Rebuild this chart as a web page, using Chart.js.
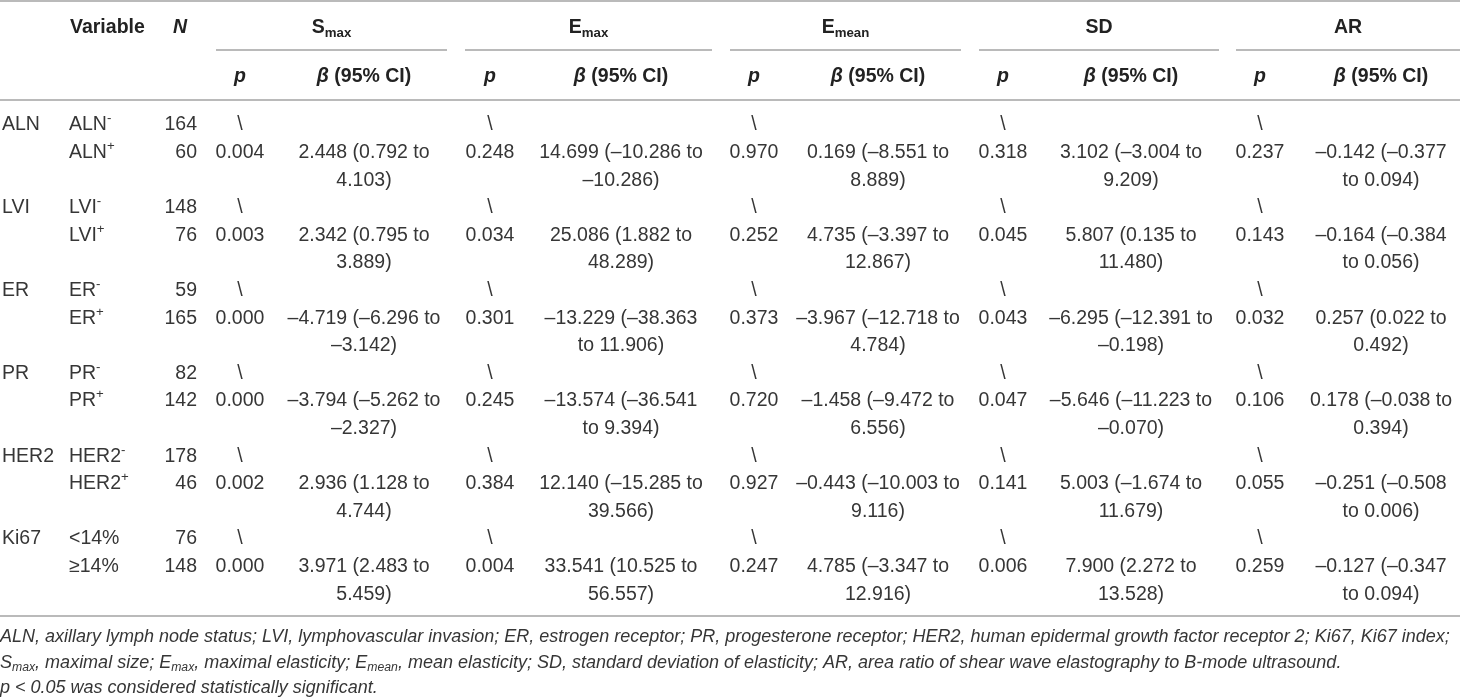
<!DOCTYPE html>
<html>
<head>
<meta charset="utf-8">
<script src="https://cdn.jsdelivr.net/npm/chart.js@4.4.1/dist/chart.umd.min.js"></script>
<style>
  html, body { margin: 0; padding: 0; background: #fff; }
  #wrap { width: 1460px; height: 699px; position: relative; }
</style>
</head>
<body>
<div id="wrap"><canvas id="tableChart"></canvas></div>
<script>
// Tabellendaten
const groups = ["ALN", "LVI", "ER", "PR", "HER2", "Ki67"];
const levels = [
  ["ALN^-", "ALN^+"],
  ["LVI^-", "LVI^+"],
  ["ER^-", "ER^+"],
  ["PR^-", "PR^+"],
  ["HER2^-", "HER2^+"],
  ["<14%", "≥14%"],
];
const nCounts = [[164, 60], [148, 76], [59, 165], [82, 142], [178, 46], [76, 148]];

const pSmax = ["0.004", "0.003", "0.000", "0.000", "0.002", "0.000"];
const betaSmax = [[2.448, 0.792, 4.103], [2.342, 0.795, 3.889], [-4.719, -6.296, -3.142],
  [-3.794, -5.262, -2.327], [2.936, 1.128, 4.744], [3.971, 2.483, 5.459]];
const pEmax = ["0.248", "0.034", "0.301", "0.245", "0.384", "0.004"];
const betaEmax = [[14.699, -10.286, -10.286], [25.086, 1.882, 48.289], [-13.229, -38.363, 11.906],
  [-13.574, -36.541, 9.394], [12.140, -15.285, 39.566], [33.541, 10.525, 56.557]];
const pEmean = ["0.970", "0.252", "0.373", "0.720", "0.927", "0.247"];
const betaEmean = [[0.169, -8.551, 8.889], [4.735, -3.397, 12.867], [-3.967, -12.718, 4.784],
  [-1.458, -9.472, 6.556], [-0.443, -10.003, 9.116], [4.785, -3.347, 12.916]];
const pSD = ["0.318", "0.045", "0.043", "0.047", "0.141", "0.006"];
const betaSD = [[3.102, -3.004, 9.209], [5.807, 0.135, 11.480], [-6.295, -12.391, -0.198],
  [-5.646, -11.223, -0.070], [5.003, -1.674, 11.679], [7.900, 2.272, 13.528]];
const pAR = ["0.237", "0.143", "0.032", "0.106", "0.055", "0.259"];
const betaAR = [[-0.142, -0.377, 0.094], [-0.164, -0.384, 0.056], [0.257, 0.022, 0.492],
  [0.178, -0.038, 0.394], [-0.251, -0.508, 0.006], [-0.127, -0.347, 0.094]];

const measures = [
  { name: "S", sub: "max", p: pSmax, beta: betaSmax },
  { name: "E", sub: "max", p: pEmax, beta: betaEmax },
  { name: "E", sub: "mean", p: pEmean, beta: betaEmean },
  { name: "SD", sub: "", p: pSD, beta: betaSD },
  { name: "AR", sub: "", p: pAR, beta: betaAR },
];

const footnotes = [
  [{ t: "ALN, axillary lymph node status; LVI, lymphovascular invasion; ER, estrogen receptor; PR, progesterone receptor; HER2, human epidermal growth factor receptor 2; Ki67, Ki67 index;" }],
  [{ t: "S" }, { t: "max", sub: true }, { t: ", maximal size; E" }, { t: "max", sub: true }, { t: ", maximal elasticity; E" },
   { t: "mean", sub: true }, { t: ", mean elasticity; SD, standard deviation of elasticity; AR, area ratio of shear wave elastography to B-mode ultrasound." }],
  [{ t: "p < 0.05 was considered statistically significant." }],
];

// Layout (x in Pixel-Einheiten, y in Zeilen-Einheiten)
const colGroupX = 2, colVarX = 69, colNX = 197;
const pX = [240, 490, 754, 1003, 1260];
const betaX = [364, 621, 878, 1131, 1381];
const betaWidth = [160, 168, 168, 168, 147];
const spanX = [[216, 447], [465, 712], [730, 961], [979, 1219], [1236, 1460]];
const rowHead1 = -3.52, rowHead2 = -1.76;
const ruleRows = { top: -4.49, mid: -2.72, head: -0.91, bottom: 17.79 };
const footRows = [18.55, 19.49, 20.4];

const FONT = '"Liberation Sans", Arial, Helvetica, sans-serif';
const TEXT = "#363636";
const RULE = "#a3a3a3";
const SIZE = 19.5;

function fmt(v) {
  return (v < 0 ? "–" : "") + Math.abs(v).toFixed(3);
}

function fontStr(run, size) {
  const s = run.sub || run.sup ? size * 0.68 : size;
  return (run.italic ? "italic " : "") + (run.bold ? "bold " : "") + s + "px " + FONT;
}

// Text aus Abschnitten zeichnen (hoch-/tiefgestellt)
function drawRuns(ctx, runs, x, y, align, size, color) {
  let total = 0;
  runs.forEach((r) => {
    ctx.font = fontStr(r, size);
    r.w = ctx.measureText(r.t).width;
    total += r.w;
  });
  let cx = x;
  if (align === "center") cx = x - total / 2;
  if (align === "right") cx = x - total;
  ctx.fillStyle = color || TEXT;
  ctx.textBaseline = "middle";
  ctx.textAlign = "left";
  runs.forEach((r) => {
    ctx.font = fontStr(r, size);
    let dy = 0;
    if (r.sub) dy = size * 0.28;
    if (r.sup) dy = -size * 0.32;
    ctx.fillText(r.t, cx, y + dy);
    cx += r.w;
  });
}

function parseLevel(s) {
  const i = s.indexOf("^");
  if (i < 0) return [{ t: s }];
  return [{ t: s.slice(0, i) }, { t: s.slice(i + 1), sup: true }];
}

function wrap(ctx, text, maxW) {
  ctx.font = SIZE + "px " + FONT;
  const words = text.split(" ");
  const lines = [];
  let cur = "";
  words.forEach((w) => {
    const test = cur ? cur + " " + w : w;
    if (cur && ctx.measureText(test).width > maxW) {
      lines.push(cur);
      cur = w;
    } else {
      cur = test;
    }
  });
  if (cur) lines.push(cur);
  return lines;
}

const tablePlugin = {
  id: "tablePlugin",
  beforeDraw(chart) {
    const ctx = chart.ctx;
    ctx.save();
    ctx.fillStyle = "#fff";
    ctx.fillRect(0, 0, chart.width, chart.height);
    ctx.restore();
  },
  afterDraw(chart) {
    const ctx = chart.ctx;
    const xs = chart.scales.x, ys = chart.scales.y;
    const X = (v) => xs.getPixelForValue(v);
    const Y = (v) => ys.getPixelForValue(v);
    ctx.save();

    // Linien
    ctx.strokeStyle = RULE;
    ctx.lineWidth = 1.5;
    const hline = (x0, x1, r) => {
      ctx.beginPath();
      ctx.moveTo(X(x0), Y(r));
      ctx.lineTo(X(x1), Y(r));
      ctx.stroke();
    };
    hline(0, 1460, ruleRows.top);
    hline(0, 1460, ruleRows.head);
    hline(0, 1460, ruleRows.bottom);
    spanX.forEach((s) => hline(s[0], s[1], ruleRows.mid));

    // Kopfzeilen
    drawRuns(ctx, [{ t: "Variable", bold: true }], X(70), Y(rowHead1), "left", SIZE, "#222");
    drawRuns(ctx, [{ t: "N", bold: true, italic: true }], X(180), Y(rowHead1), "center", SIZE, "#222");
    measures.forEach((m, i) => {
      const runs = [{ t: m.name, bold: true }];
      if (m.sub) runs.push({ t: m.sub, bold: true, sub: true });
      drawRuns(ctx, runs, X((spanX[i][0] + spanX[i][1]) / 2), Y(rowHead1), "center", SIZE, "#222");
      drawRuns(ctx, [{ t: "p", bold: true, italic: true }], X(pX[i]), Y(rowHead2), "center", SIZE, "#222");
      drawRuns(ctx, [{ t: "β", bold: true, italic: true }, { t: " (95% CI)", bold: true }],
        X(betaX[i]), Y(rowHead2), "center", SIZE, "#222");
    });

    // Datenzeilen
    groups.forEach((g, gi) => {
      const r0 = gi * 3;
      drawRuns(ctx, [{ t: g }], X(colGroupX), Y(r0), "left", SIZE);
      levels[gi].forEach((lv, li) => {
        drawRuns(ctx, parseLevel(lv), X(colVarX), Y(r0 + li), "left", SIZE);
        drawRuns(ctx, [{ t: String(nCounts[gi][li]) }], X(colNX), Y(r0 + li), "right", SIZE);
      });
      measures.forEach((m, mi) => {
        drawRuns(ctx, [{ t: "\\" }], X(pX[mi]), Y(r0), "center", SIZE);
        drawRuns(ctx, [{ t: m.p[gi] }], X(pX[mi]), Y(r0 + 1), "center", SIZE);
        const b = m.beta[gi];
        const txt = fmt(b[0]) + " (" + fmt(b[1]) + " to " + fmt(b[2]) + ")";
        wrap(ctx, txt, betaWidth[mi]).forEach((line, k) => {
          drawRuns(ctx, [{ t: line }], X(betaX[mi]), Y(r0 + 1 + k), "center", SIZE);
        });
      });
    });

    // Fußnoten
    footnotes.forEach((runs, i) => {
      const it = runs.map((r) => Object.assign({ italic: true }, r));
      drawRuns(ctx, it, X(0), Y(footRows[i]), "left", 18);
    });
    ctx.restore();
  },
};

new Chart(document.getElementById("tableChart").getContext("2d"), {
  type: "scatter",
  data: {
    datasets: [{ data: [{ x: 0, y: 0 }], pointRadius: 0, showLine: false }],
  },
  options: {
    responsive: true,
    maintainAspectRatio: false,
    animation: false,
    layout: { padding: 0 },
    plugins: { legend: { display: false }, tooltip: { enabled: false } },
    scales: {
      x: { type: "linear", display: false, min: 0, max: 1460 },
      y: { type: "linear", display: false, reverse: true, min: -4.529, max: 20.797 },
    },
  },
  plugins: [tablePlugin],
});
</script>
</body>
</html>
